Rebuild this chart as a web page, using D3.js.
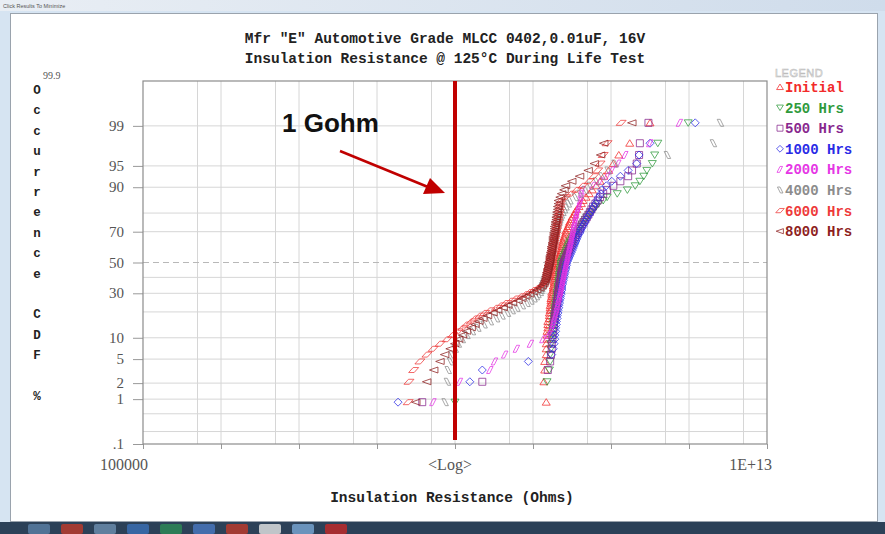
<!DOCTYPE html>
<html>
<head>
<meta charset="utf-8">
<script src="https://cdn.jsdelivr.net/npm/d3@7"></script>
<style>
body{margin:0;background:#dbe7f3;overflow:hidden}
svg{display:block}
</style>
</head>
<body>
<script>
// insulation resistance readings, log10(ohms), sorted low->high, 80 parts per read point
var initialIR = [10.17,10.14,10.15,10.15,10.17,10.17,10.17,10.18,10.18,10.18,
  10.19,10.19,10.19,10.21,10.21,10.21,10.22,10.22,10.22,10.23,
  10.23,10.23,10.24,10.24,10.24,10.26,10.26,10.26,10.27,10.27,
  10.27,10.28,10.28,10.28,10.29,10.29,10.29,10.31,10.31,10.31,
  10.32,10.32,10.33,10.33,10.35,10.35,10.36,10.36,10.37,10.37,
  10.38,10.38,10.40,10.40,10.41,10.42,10.42,10.44,10.45,10.46,
  10.47,10.49,10.50,10.53,10.54,10.56,10.59,10.62,10.64,10.68,
  10.72,10.76,10.81,10.86,10.91,10.97,11.03,11.10,11.24,11.50];
var hrs250IR = [9.00,10.18,10.21,10.22,10.22,10.23,10.23,10.24,10.24,10.25,
  10.25,10.26,10.26,10.27,10.27,10.28,10.28,10.28,10.29,10.29,
  10.30,10.30,10.31,10.31,10.31,10.32,10.32,10.32,10.33,10.33,
  10.33,10.34,10.34,10.34,10.35,10.35,10.35,10.36,10.36,10.36,
  10.37,10.38,10.39,10.40,10.41,10.42,10.43,10.44,10.45,10.46,
  10.47,10.48,10.50,10.51,10.53,10.55,10.57,10.59,10.61,10.63,
  10.65,10.67,10.69,10.72,10.75,10.78,10.81,10.84,10.90,10.95,
  11.08,11.21,11.31,11.37,11.42,11.46,11.53,11.56,11.60,11.99];
var hrs500IR = [8.58,9.35,10.19,10.22,10.23,10.24,10.24,10.25,10.25,10.26,
  10.26,10.27,10.27,10.28,10.28,10.29,10.29,10.30,10.30,10.31,
  10.31,10.32,10.32,10.32,10.33,10.33,10.34,10.34,10.34,10.35,
  10.35,10.36,10.36,10.36,10.37,10.37,10.38,10.38,10.39,10.39,
  10.40,10.41,10.42,10.43,10.44,10.45,10.46,10.47,10.48,10.49,
  10.50,10.51,10.52,10.54,10.55,10.57,10.58,10.60,10.61,10.63,
  10.65,10.67,10.69,10.71,10.73,10.75,10.77,10.80,10.83,10.86,
  10.90,10.95,11.03,11.12,11.22,11.27,11.33,11.36,11.37,11.48];
var hrs1000IR = [8.27,9.19,9.35,9.94,10.24,10.26,10.27,10.28,10.28,10.29,
  10.29,10.30,10.30,10.31,10.31,10.32,10.32,10.33,10.33,10.34,
  10.34,10.35,10.35,10.36,10.36,10.37,10.37,10.37,10.38,10.38,
  10.39,10.39,10.40,10.40,10.41,10.41,10.42,10.42,10.43,10.43,
  10.44,10.45,10.46,10.47,10.48,10.49,10.50,10.51,10.52,10.53,
  10.54,10.55,10.56,10.57,10.58,10.60,10.61,10.62,10.64,10.65,
  10.67,10.68,10.70,10.72,10.74,10.76,10.78,10.80,10.82,10.84,
  10.87,10.88,10.94,11.01,11.12,11.22,11.33,11.36,11.50,12.08];
var hrs2000IR = [8.72,9.06,9.45,9.51,9.64,9.79,9.97,10.13,10.20,10.23,
  10.25,10.26,10.27,10.28,10.29,10.30,10.31,10.31,10.32,10.33,
  10.33,10.34,10.35,10.35,10.36,10.36,10.37,10.37,10.38,10.38,
  10.39,10.39,10.40,10.40,10.41,10.41,10.42,10.42,10.43,10.43,
  10.44,10.44,10.45,10.45,10.46,10.46,10.47,10.47,10.48,10.48,
  10.49,10.49,10.50,10.50,10.51,10.51,10.52,10.52,10.53,10.53,
  10.54,10.55,10.55,10.56,10.57,10.58,10.59,10.60,10.61,10.62,
  10.62,10.63,10.77,10.86,10.95,11.01,11.09,11.18,11.50,11.88];
var hrs4000IR = [8.87,8.90,8.91,8.94,8.96,9.00,9.04,9.09,9.15,9.22,
  9.29,9.37,9.45,9.53,9.60,9.67,9.73,9.79,9.86,9.92,
  9.97,10.01,10.04,10.06,10.09,10.10,10.11,10.12,10.13,10.14,
  10.15,10.16,10.17,10.18,10.19,10.19,10.20,10.21,10.21,10.22,
  10.22,10.23,10.23,10.24,10.24,10.25,10.25,10.26,10.26,10.27,
  10.27,10.28,10.28,10.29,10.29,10.30,10.30,10.31,10.31,10.32,
  10.33,10.34,10.35,10.36,10.38,10.40,10.42,10.45,10.47,10.54,
  10.60,10.67,10.73,10.81,10.88,10.96,11.05,11.72,12.31,12.40];
var hrs6000IR = [8.40,8.41,8.47,8.55,8.64,8.72,8.81,8.90,8.97,9.04,
  9.10,9.15,9.21,9.26,9.32,9.38,9.45,9.53,9.59,9.65,
  9.72,9.78,9.85,9.91,9.96,10.01,10.06,10.10,10.13,10.15,
  10.17,10.17,10.18,10.18,10.19,10.19,10.20,10.20,10.21,10.21,
  10.22,10.22,10.23,10.23,10.24,10.24,10.25,10.25,10.26,10.26,
  10.27,10.27,10.28,10.28,10.29,10.29,10.30,10.30,10.31,10.31,
  10.32,10.32,10.33,10.33,10.34,10.34,10.35,10.35,10.36,10.42,
  10.49,10.56,10.64,10.72,10.78,10.83,10.86,10.90,10.95,11.13];
var hrs8000IR = [8.50,8.64,8.73,8.81,8.87,8.94,9.00,9.05,9.10,9.15,
  9.21,9.26,9.31,9.36,9.42,9.49,9.55,9.62,9.68,9.74,
  9.81,9.86,9.91,9.96,10.01,10.05,10.09,10.12,10.14,10.15,
  10.16,10.17,10.17,10.18,10.18,10.19,10.19,10.20,10.20,10.21,
  10.21,10.22,10.22,10.22,10.23,10.23,10.24,10.24,10.24,10.25,
  10.25,10.26,10.26,10.26,10.27,10.27,10.28,10.28,10.28,10.29,
  10.29,10.30,10.30,10.31,10.31,10.32,10.32,10.33,10.33,10.35,
  10.37,10.40,10.42,10.50,10.60,10.71,10.79,10.87,10.91,11.27];

var seriesNames = ["Initial","250 Hrs","500 Hrs","1000 Hrs","2000 Hrs","4000 Hrs","6000 Hrs","8000 Hrs"];
var seriesData = [initialIR,hrs250IR,hrs500IR,hrs1000IR,hrs2000IR,hrs4000IR,hrs6000IR,hrs8000IR];

var yTickValues = [99,95,90,70,50,30,10,5,2,1,0.1];
var yTickLabels = ["99","95","90","70","50","30","10","5","2","1",".1"];
var yGridValues = [99,95,90,80,70,40,30,20,10,5,2,1,0.5,0.2];
var xDecades = [1e5,1e6,1e7,1e8,1e9,1e10,1e11,1e12,1e13];
var xGridValues = [5e5,1e6,5e6,1e7,5e7,1e8,5e8,1e9,5e9,1e10,5e10,1e11,5e11,1e12,5e12];
var xTickLabels = ["100000","<Log>","1E+13"];
var markerLine = 1e9;   // 1 Gohm

var colors = ["#f22a2a","#2f9a3c","#88278e","#2a2ae6","#e536e5","#8c8c8c","#ee3a3a","#8e1f1f"];
var shapes = [
  "M0,-3.5L4,3L-4,3Z",
  "M-4,-3L4,-3L0,3.5Z",
  "M-3.5,-3.5h7v7h-7Z",
  "M0,-4L4,0L0,4L-4,0Z",
  "M-3.5,3.5L0,-3.5L3,-3.5L-0.5,3.5Z",
  "M-3,-3.5L0,-3.5L3.5,3.5L0.5,3.5Z",
  "M-5,2.5L-0.5,-2.5L5,-2.5L0.5,2.5Z",
  "M-4.5,0L4,-3L4,3Z"
];

// inverse normal cdf (Acklam) for the lognormal probability axis
function probit(p){
  var a=[-39.69683028665376,220.9460984245205,-275.9285104469687,138.3577518672690,-30.66479806614716,2.506628277459239];
  var b=[-54.47609879822406,161.5858368580409,-155.6989798598866,66.80131188771972,-13.28068155288572];
  var c=[-0.007784894002430293,-0.3223964580411365,-2.400758277161838,-2.549732539343734,4.374664141464968,2.938163982698783];
  var d=[0.007784695709041462,0.3224671290700398,2.445134137142996,3.754408661907416];
  var q,r;
  if(p<0.02425){q=Math.sqrt(-2*Math.log(p));
    return (((((c[0]*q+c[1])*q+c[2])*q+c[3])*q+c[4])*q+c[5])/((((d[0]*q+d[1])*q+d[2])*q+d[3])*q+1);}
  if(p>1-0.02425){q=Math.sqrt(-2*Math.log(1-p));
    return -(((((c[0]*q+c[1])*q+c[2])*q+c[3])*q+c[4])*q+c[5])/((((d[0]*q+d[1])*q+d[2])*q+d[3])*q+1);}
  q=p-0.5;r=q*q;
  return (((((a[0]*r+a[1])*r+a[2])*r+a[3])*r+a[4])*r+a[5])*q/(((((b[0]*r+b[1])*r+b[2])*r+b[3])*r+b[4])*r+1);
}

var W = 885, H = 534;
var plotL = 143, plotR = 767, plotT = 81, plotB = 444;

var x = d3.scaleLog().domain([1e5,1e13]).range([plotL,plotR]);
var yz = d3.scaleLinear().domain([probit(0.001),probit(0.999)]).range([plotB,plotT]);
function y(pct){ return yz(probit(pct/100)); }

var svg = d3.select("body").append("svg").attr("width",W).attr("height",H);

// window chrome
var grad = svg.append("defs").append("linearGradient").attr("id","bar").attr("x1",0).attr("x2",1);
grad.append("stop").attr("offset",0).attr("stop-color","#e9eef4");
grad.append("stop").attr("offset",1).attr("stop-color","#cfdceb");
svg.append("rect").attr("width",W).attr("height",H).attr("fill","#d6e4f2");
svg.append("rect").attr("width",W).attr("height",11).attr("fill","url(#bar)");
svg.append("text").attr("x",3).attr("y",8).attr("font-family","Liberation Sans")
  .attr("font-size",5.5).attr("fill","#555").text("Click Results To Minimize");
svg.append("rect").attr("x",10.5).attr("y",13.5).attr("width",867).attr("height",508)
  .attr("fill","#fff").attr("stroke","#9aa3ad");
svg.append("rect").attr("y",522).attr("width",W).attr("height",12).attr("fill","#2c4158");
var icons = ["#5b7fa6","#c0392b","#6e8fb0","#3b6fb6","#2e8b57","#4a78c2","#c0392b","#e6e6e6","#7aa7d6","#c62828"];
svg.selectAll(".ic").data(icons).enter().append("rect")
  .attr("x",function(d,i){ return 28 + i*33; }).attr("y",524).attr("width",22).attr("height",10)
  .attr("rx",2).attr("fill",function(d){ return d; }).attr("opacity",0.8);

// grid
var g = svg.append("g");
g.selectAll(".vg").data(xGridValues).enter().append("line")
  .attr("x1",function(d){ return x(d); }).attr("x2",function(d){ return x(d); })
  .attr("y1",plotT).attr("y2",plotB).attr("stroke","#d6d6d6").attr("stroke-width",1);
g.selectAll(".hg").data(yGridValues).enter().append("line")
  .attr("x1",plotL).attr("x2",plotR)
  .attr("y1",function(d){ return y(d); }).attr("y2",function(d){ return y(d); })
  .attr("stroke","#d6d6d6").attr("stroke-width",1);
g.append("line").attr("x1",plotL).attr("x2",plotR).attr("y1",y(50)).attr("y2",y(50))
  .attr("stroke","#b8b8b8").attr("stroke-width",1.2).attr("stroke-dasharray","6,4");

// axes
var xAxis = svg.append("g").attr("transform","translate(0,"+plotB+")")
  .call(d3.axisBottom(x).tickValues(xDecades).tickSize(5).tickFormat(""));
xAxis.select(".domain").remove();
xAxis.selectAll("line").attr("stroke","#999");
var yAxis = svg.append("g").attr("transform","translate("+plotL+",0)")
  .call(d3.axisLeft(yz).tickValues(yTickValues.map(function(v){ return probit(v/100); })).tickSize(10).tickFormat(""));
yAxis.select(".domain").remove();
yAxis.selectAll("line").attr("stroke","#999");

svg.selectAll(".yl").data(yTickValues).enter().append("text")
  .attr("x",124).attr("y",function(d){ return y(d) + 5; })
  .attr("text-anchor","end").attr("font-family","Liberation Serif").attr("font-size",15)
  .attr("fill","#555").text(function(d,i){ return yTickLabels[i]; });
svg.append("text").attr("x",43).attr("y",79).attr("font-family","Liberation Serif")
  .attr("font-size",10).attr("fill","#555").text("99.9");

svg.append("text").attr("x",100).attr("y",470).attr("font-family","Liberation Serif")
  .attr("font-size",16).attr("fill","#555").text(xTickLabels[0]);
svg.append("text").attr("x",450).attr("y",470).attr("text-anchor","middle").attr("font-family","Liberation Serif")
  .attr("font-size",16).attr("fill","#555").text(xTickLabels[1]);
svg.append("text").attr("x",772).attr("y",470).attr("text-anchor","end").attr("font-family","Liberation Serif")
  .attr("font-size",16).attr("fill","#555").text(xTickLabels[2]);

// data points
seriesData.forEach(function(vals,k){
  var n = vals.length;
  svg.append("g").selectAll("path").data(vals).enter().append("path")
    .attr("transform",function(v,i){
      var rank = (i + 1 - 0.3) / (n + 0.4) * 100;   // median rank plotting position
      return "translate(" + x(Math.pow(10,v)) + "," + y(rank) + ")";
    })
    .attr("d",shapes[k]).attr("fill","none").attr("stroke",colors[k])
    .attr("stroke-width",0.9).attr("opacity",0.85);
});

// plot frame
svg.append("rect").attr("x",plotL).attr("y",plotT).attr("width",plotR-plotL).attr("height",plotB-plotT)
  .attr("fill","none").attr("stroke","#8c8c8c").attr("stroke-width",1.2);

// titles
var mono = "Liberation Mono";
svg.append("text").attr("x",445).attr("y",43).attr("text-anchor","middle").attr("font-family",mono)
  .attr("font-weight","bold").attr("font-size",14.5).attr("fill","#222").text('Mfr "E" Automotive Grade MLCC 0402,0.01uF, 16V');
svg.append("text").attr("x",445).attr("y",63).attr("text-anchor","middle").attr("font-family",mono)
  .attr("font-weight","bold").attr("font-size",14.5).attr("fill","#222").text("Insulation Resistance @ 125°C During Life Test");
svg.append("text").attr("x",452).attr("y",502).attr("text-anchor","middle").attr("font-family",mono)
  .attr("font-weight","bold").attr("font-size",14.5).attr("fill","#222").text("Insulation Resistance (Ohms)");

var yTitle = "Occurrence CDF %".split("");
svg.selectAll(".yt").data(yTitle).enter().append("text")
  .attr("x",37).attr("y",function(d,i){ return 94 + i*20.4; })
  .attr("text-anchor","middle").attr("font-family",mono).attr("font-weight","bold")
  .attr("font-size",12.5).attr("fill","#222").text(function(d){ return d; });

// legend
svg.append("text").attr("x",775).attr("y",77).attr("font-family","Liberation Sans")
  .attr("font-size",11).attr("fill","none").attr("stroke","#bcbcbc").attr("stroke-width",0.6)
  .attr("letter-spacing",0.5).text("LEGEND");
var leg = svg.selectAll(".lg").data(seriesNames).enter().append("g")
  .attr("transform",function(d,i){ return "translate(780," + (87 + i*20.6) + ")"; });
leg.append("path").attr("d",function(d,i){ return shapes[i]; }).attr("transform","scale(0.85)")
  .attr("fill","none").attr("stroke",function(d,i){ return colors[i]; }).attr("stroke-width",0.9);
leg.append("text").attr("x",5).attr("y",5).attr("font-family",mono).attr("font-weight","bold")
  .attr("font-size",14).attr("fill",function(d,i){ return colors[i]; }).text(function(d){ return d; });

// 1 Gohm annotation
svg.append("line").attr("x1",x(markerLine)).attr("x2",x(markerLine)).attr("y1",81).attr("y2",440)
  .attr("stroke","#c00000").attr("stroke-width",4);
svg.append("line").attr("x1",340).attr("y1",151).attr("x2",428).attr("y2",187)
  .attr("stroke","#c00000").attr("stroke-width",2.5);
svg.append("path").attr("d","M445,193L423,194L430,178Z").attr("fill","#c00000");
svg.append("text").attr("x",282).attr("y",132).attr("font-family","Liberation Sans")
  .attr("font-weight","bold").attr("font-size",26).attr("fill","#111").text("1 Gohm");
</script>
</body>
</html>
